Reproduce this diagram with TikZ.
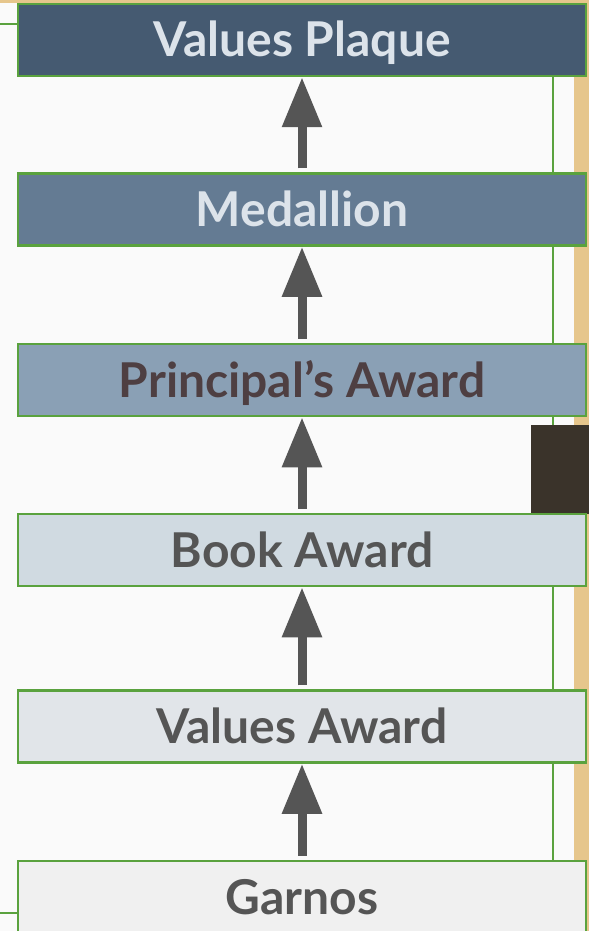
\documentclass[tikz,border=0pt]{standalone}
\usepackage{fontspec}
\setmainfont{Lato}
\usetikzlibrary{arrows.meta,positioning,backgrounds}
\definecolor{frame}{RGB}{90,162,62}
\definecolor{paper}{RGB}{250,250,250}
\definecolor{tan}{RGB}{230,198,140}
\definecolor{board}{RGB}{58,51,42}
\definecolor{arrowgrey}{RGB}{85,85,85}
\definecolor{lvlA}{RGB}{69,90,113}
\definecolor{lvlB}{RGB}{100,123,147}
\definecolor{lvlC}{RGB}{138,160,181}
\definecolor{lvlD}{RGB}{208,218,225}
\definecolor{lvlE}{RGB}{225,229,233}
\definecolor{lvlF}{RGB}{240,240,240}
\definecolor{lighttext}{RGB}{220,227,234}
\definecolor{darktext}{RGB}{78,63,66}
\definecolor{greytext}{RGB}{85,85,85}
\tikzset{
  award/.style={draw=frame, line width=2.5pt, minimum width=568pt, minimum height=72pt,
    inner sep=0pt, font=\fontsize{48}{48}\selectfont\bfseries,
    text height=34pt, text depth=0pt},
  climb/.style={draw=arrowgrey, line width=9pt, shorten <=4pt,
    -{Triangle[width=38pt,length=50pt]}},
  rail/.style={draw=frame, line width=2.5pt}
}
\begin{document}
\begin{tikzpicture}[x=1pt,y=-1pt]
	\useasboundingbox (0,0) rectangle (589,931);
	% 六个等级
	\node[award, fill=lvlA, text=lighttext] (plaque) at (302,40) {Values Plaque};
	\node[award, fill=lvlB, text=lighttext] (medallion) at (302,209.5) {Medallion};
	\node[award, fill=lvlC, text=darktext] (principal) at (302,380) {Principal’s Award};
	\node[award, fill=lvlD, text=greytext] (book) at (302,550) {Book Award};
	\node[award, fill=lvlE, text=greytext] (valaward) at (302,726.5) {Values Award};
	\node[award, fill=lvlF, text=greytext] (garnos) at (302,897) {Garnos};

	\draw[climb] (garnos.north) -- (valaward.south);
	\draw[climb] (valaward.north) -- (book.south);
	\draw[climb] (book.north) -- (principal.south);
	\draw[climb] (principal.north) -- (medallion.south);
	\draw[climb] (medallion.north) -- (plaque.south);

	\coordinate (stubtop) at (0,24);
	\coordinate (stubbot) at (0,913);
	\draw[rail] (stubtop) -- (stubtop -| plaque.west);
	\draw[rail] (stubbot) -- (stubbot -| garnos.west);

	\begin{scope}[on background layer]
		\fill[paper] (0,0) rectangle (589,931);
		\fill[tan] (574,0) rectangle (589,931);
		\fill[tan] (0,0) rectangle (589,3);
		\coordinate (railx) at (553,0);
		\draw[rail] (railx |- plaque.south) -- (railx |- garnos.north);
		\fill[board] (531,425) rectangle (589,514);
	\end{scope}
\end{tikzpicture}
\end{document}
